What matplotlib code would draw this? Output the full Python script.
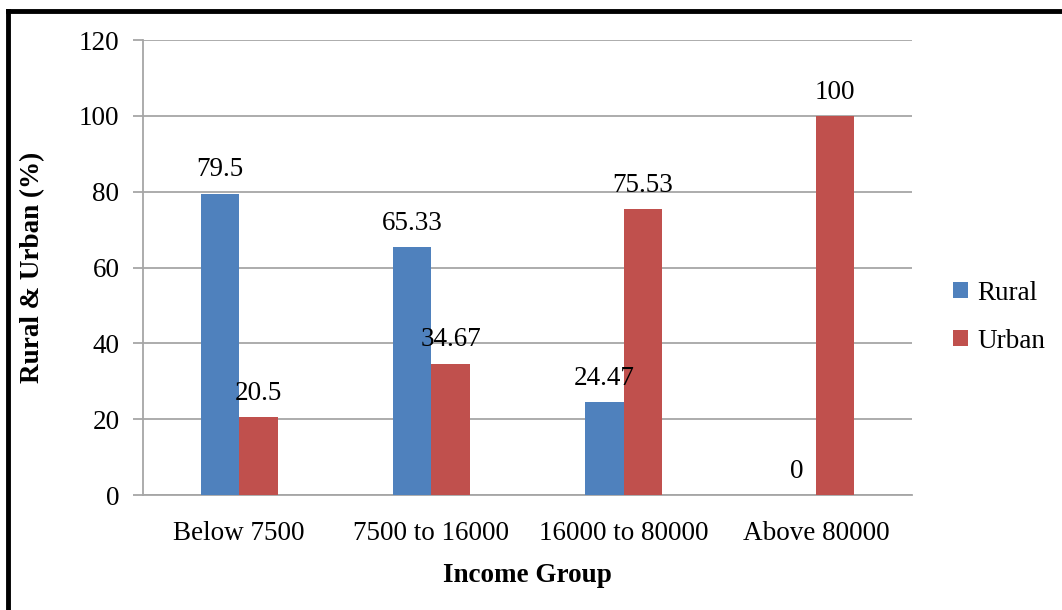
import matplotlib.pyplot as plt
import matplotlib.lines as mlines
import numpy as np

# Datos por grupo de ingreso
grupos = ['Below 7500', '7500 to 16000', '16000 to 80000', 'Above 80000']
rural = [79.5, 65.33, 24.47, 0]
urbano = [20.5, 34.67, 75.53, 100]
etiquetas_rural = ['79.5', '65.33', '24.47', '0']
etiquetas_urbano = ['20.5', '34.67', '75.53', '100']

plt.rcParams['font.family'] = ['Liberation Serif', 'DejaVu Serif']
plt.rcParams['font.size'] = 19.5

fig = plt.figure(figsize=(10.62, 6.10), dpi=100)
ax = fig.add_axes([0.1347, 0.1885, 0.7241, 0.7459])

x = np.arange(len(grupos))
ancho = 0.2
gris = '#A6A6A6'

b1 = ax.bar(x - ancho / 2, rural, ancho, color='#4F81BD', label='Rural', zorder=3)
b2 = ax.bar(x + ancho / 2, urbano, ancho, color='#C0504D', label='Urban', zorder=3)

for barras, textos in ((b1, etiquetas_rural), (b2, etiquetas_urbano)):
    for b, t in zip(barras, textos):
        ax.annotate(t, (b.get_x() + b.get_width() / 2, b.get_height()),
                    xytext=(0, 8), textcoords='offset points',
                    ha='center', va='bottom')

ax.set_xlim(-0.5, len(grupos) - 0.5)
ax.set_ylim(0, 120)
ax.set_yticks(range(0, 121, 20))
ax.set_xticks(x)
ax.set_xticklabels(grupos)
ax.yaxis.grid(True, color=gris, linewidth=1.3, zorder=0)
ax.tick_params(axis='y', length=7, color=gris, width=1.3, pad=10)
ax.tick_params(axis='x', length=0, pad=19)

for lado in ('top', 'right'):
    ax.spines[lado].set_visible(False)
for lado in ('left', 'bottom'):
    ax.spines[lado].set_color(gris)
    ax.spines[lado].set_linewidth(1.3)

ax.set_xlabel('Income Group', fontweight='bold', labelpad=12)
ax.set_ylabel('Rural & Urban (%)', fontweight='bold', labelpad=24)

fig.legend(handles=[b1, b2], loc='center left', bbox_to_anchor=(0.887, 0.48),
           frameon=False, handlelength=0.55, handleheight=0.55,
           handletextpad=0.35, labelspacing=0.85, borderaxespad=0)

# Marco negro superior e izquierdo
fig.add_artist(mlines.Line2D([0.008, 0.008], [0, 0.982], color='black', linewidth=3.5))
fig.add_artist(mlines.Line2D([0.008, 1.0], [0.982, 0.982], color='black', linewidth=3.5))

plt.savefig('out.png', dpi=100)
